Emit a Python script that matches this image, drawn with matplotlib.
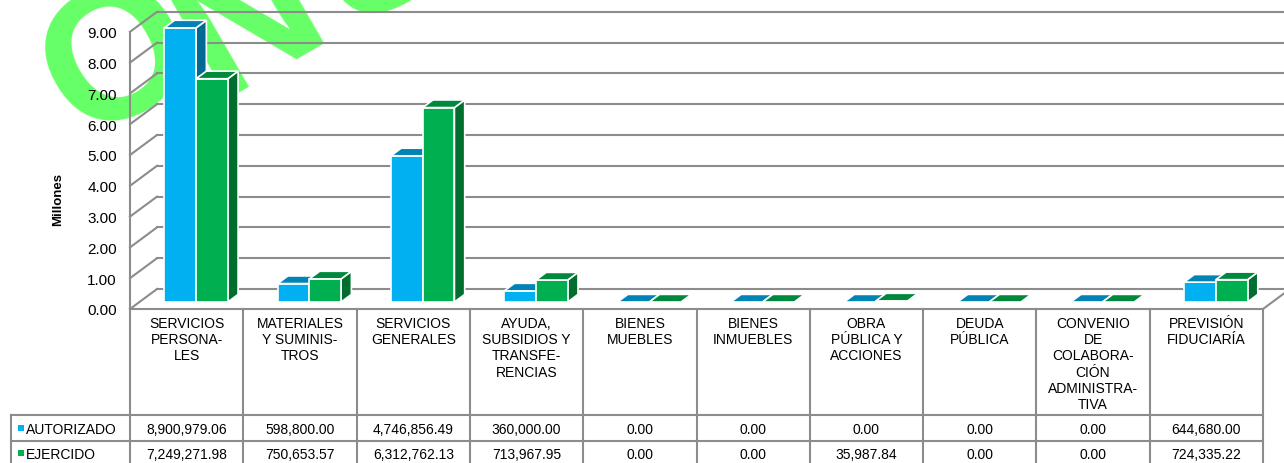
import numpy as np
import matplotlib.pyplot as plt
from matplotlib.patches import Polygon, Rectangle

plt.rcParams['font.family'] = ['Liberation Sans', 'DejaVu Sans']

categorias = ['SERVICIOS\nPERSONA-\nLES', 'MATERIALES\nY SUMINIS-\nTROS', 'SERVICIOS\nGENERALES',
              'AYUDA,\nSUBSIDIOS Y\nTRANSFE-\nRENCIAS', 'BIENES\nMUEBLES', 'BIENES\nINMUEBLES',
              'OBRA\nPÚBLICA Y\nACCIONES', 'DEUDA\nPÚBLICA',
              'CONVENIO\nDE\nCOLABORA-\nCIÓN\nADMINISTRA-\nTIVA', 'PREVISIÓN\nFIDUCIARÍA']
autorizado = [8900979.06, 598800.00, 4746856.49, 360000.00, 0.00, 0.00, 0.00, 0.00, 0.00, 644680.00]
ejercido = [7249271.98, 750653.57, 6312762.13, 713967.95, 0.00, 0.00, 35987.84, 0.00, 0.00, 724335.22]
series = ['AUTORIZADO', 'EJERCIDO']
yticks = list(range(10))

# colores: frente, tapa, lado
c_aut = ('#00B0F0', '#0084B6', '#006A92')
c_eje = ('#00B050', '#00883C', '#006E2F')
grid_c = '#8C8C8C'

W, H = 1284, 464
X0 = 130          # borde izquierdo del plano frontal (px)
FLOOR = 310       # piso frontal (px desde arriba)
COLW = 113.3      # ancho de columna (px)
UNIT = 30.8       # px por millón

fig = plt.figure(figsize=(W / 100, H / 100), dpi=100)

# marca de agua (letras sueltas, giradas)
for letra, (px, py) in zip(['O', 'N', 'S'], [(120, 62), (250, 22), (384, -46)]):
    fig.text(px / W, 1 - py / H, letra, fontsize=136, fontweight='bold', color='#66FF66',
             rotation=30, rotation_mode='anchor', zorder=-5, va='center', ha='center')

ax = fig.add_axes([X0 / W, (H - FLOOR) / H, (W - X0) / W, FLOOR / H])
ax.patch.set_visible(False)
ax.set_xlim(-0.5, -0.5 + (W - X0) / COLW)
ax.set_ylim(0, FLOOR / UNIT)
for s in ax.spines.values():
    s.set_visible(False)

DX = 27 / COLW
DY = 20 / UNIT
xr = ax.get_xlim()[1]
n = len(categorias)

# paredes y rejilla
for v in yticks:
    ax.plot([-0.5, -0.5 + DX], [v, v + DY], color=grid_c, lw=1.5, zorder=1, clip_on=False)
    ax.plot([-0.5 + DX, xr], [v + DY, v + DY], color=grid_c, lw=1.5, zorder=1, clip_on=False)
ax.plot([-0.5, -0.5], [0, yticks[-1]], color=grid_c, lw=1.5, zorder=1, clip_on=False)
ax.plot([n - 0.5, n - 0.5 + DX * 1.3], [0, DY * 1.3], color=grid_c, lw=1.5, zorder=1, clip_on=False)

ax.set_xticks([])
ax.set_yticks(yticks)
ax.set_yticklabels([f'{v:.2f}' for v in yticks], fontsize=11)
ax.tick_params(axis='y', length=0, pad=9.5)

# barras 3D
f0 = 0.35
ddx, ddy = 0.38 * DX, 0.38 * DY
w = 0.28
base = f0 * DY
vals = [np.array(autorizado) / 1e6, np.array(ejercido) / 1e6]
cols = [c_aut, c_eje]
for i in range(n):
    c = i + f0 * DX
    for k in range(2):
        v = vals[k][i]
        x0 = c - w + k * w
        front, top, side = cols[k]
        z = 3 + k
        kw = dict(ec='white', lw=1.2, zorder=z, clip_on=False, joinstyle='miter')
        if v > 0:
            ax.add_patch(Polygon([(x0 + w, base), (x0 + w, base + v), (x0 + w + ddx, base + v + ddy),
                                  (x0 + w + ddx, base + ddy)], closed=True, fc=side, **kw))
            ax.add_patch(Rectangle((x0, base), w, v, fc=front, **kw))
        ax.add_patch(Polygon([(x0, base + v), (x0 + w, base + v), (x0 + w + ddx, base + v + ddy),
                              (x0 + ddx, base + v + ddy)], closed=True, fc=top, **kw))

fig.text(58 / W, 1 - 200 / H, 'Millones', rotation=90, fontsize=9.5, fontweight='bold',
         ha='center', va='center')

# tabla de datos
tax = fig.add_axes([0, 0, 1, 1])
tax.set_xlim(0, W)
tax.set_ylim(H, 0)
tax.axis('off')
tax.patch.set_visible(False)

edges = [X0 + k * COLW for k in range(n + 1)]
row1, row2, row3 = 416, 442, 468
for x in edges:
    tax.plot([x, x], [FLOOR, H + 5], color=grid_c, lw=1.5, clip_on=False)
tax.plot([X0, edges[-1]], [FLOOR, FLOOR], color=grid_c, lw=1.5)
for y in (row1, row2, row3):
    tax.plot([11, edges[-1]], [y, y], color=grid_c, lw=1.5, clip_on=False)
tax.plot([11, 11], [row1, H + 5], color=grid_c, lw=1.5, clip_on=False)

for i, lab in enumerate(categorias):
    xc = (edges[i] + edges[i + 1]) / 2
    tax.text(xc, 317, lab, ha='center', va='top', fontsize=10, linespacing=1.2)
    tax.text(xc, (row1 + row2) / 2 + 1, f'{autorizado[i]:,.2f}', ha='center', va='center', fontsize=10)
    tax.text(xc, (row2 + row3) / 2, f'{ejercido[i]:,.2f}', ha='center', va='center', fontsize=10)

for k, (name, yc) in enumerate(zip(series, [(row1 + row2) / 2 + 1, (row2 + row3) / 2])):
    tax.plot([20.5], [yc - 1], marker='s', ms=4, color=cols[k][0], mew=0)
    tax.text(26, yc, name, ha='left', va='center', fontsize=10)

fig.savefig('out.png', dpi=100)
